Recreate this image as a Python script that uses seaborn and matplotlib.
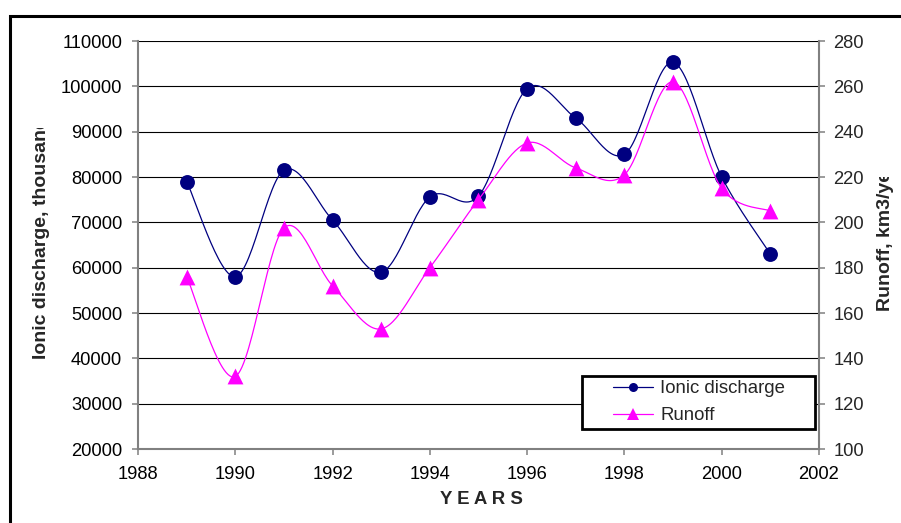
import numpy as np
import pandas as pd
import matplotlib
matplotlib.use("Agg")
import matplotlib.pyplot as plt
import seaborn as sns
from matplotlib.lines import Line2D
from matplotlib.patches import Rectangle
from matplotlib.transforms import Bbox, TransformedBbox

years = [1989, 1990, 1991, 1992, 1993, 1994, 1995, 1996, 1997, 1998, 1999, 2000, 2001]
ionic = [79000, 58000, 81500, 70500, 59000, 75600, 75800, 99500, 93000, 85000, 105300, 80000, 63000]
runoff = [176, 132, 197.5, 172, 153, 180, 210, 235, 224, 221, 262, 215, 205]

x_ticks = [1988, 1990, 1992, 1994, 1996, 1998, 2000, 2002]
left_ticks = [20000, 30000, 40000, 50000, 60000, 70000, 80000, 90000, 100000, 110000]
right_ticks = [100, 120, 140, 160, 180, 200, 220, 240, 260, 280]

NAVY = "#000080"
MAGENTA = "#FF00FF"
FS = 13.2
FS_TITLE = 14
FS_LEG = 13.4

sns.set_style("white")
plt.rcParams["font.family"] = ["Liberation Sans", "DejaVu Sans"]


def smooth(xs, ys, n=30):
    """Excel-like smoothed line (Catmull-Rom style Bezier through points)."""
    P = np.column_stack([np.asarray(xs, float), np.asarray(ys, float)])
    Pp = np.vstack([P[0], P, P[-1]])
    out = []
    t = np.linspace(0, 1, n)[:, None]
    for i in range(len(P) - 1):
        p0, p1, p2, p3 = Pp[i], Pp[i + 1], Pp[i + 2], Pp[i + 3]
        c1 = p1 + (p2 - p0) / 6.0
        c2 = p2 - (p3 - p1) / 6.0
        seg = ((1 - t) ** 3) * p1 + 3 * ((1 - t) ** 2) * t * c1 + 3 * (1 - t) * t ** 2 * c2 + t ** 3 * p2
        out.append(seg if i == 0 else seg[1:])
    S = np.vstack(out)
    return S[:, 0], S[:, 1]


df = pd.DataFrame({"year": years, "ionic": ionic, "runoff": runoff})

W, H = 901, 523
fig = plt.figure(figsize=(W / 100, H / 100), dpi=100)
ax = fig.add_axes([138 / W, 1 - 449 / H, (819 - 138) / W, (449 - 41) / H])
ax2 = ax.twinx()

# left axis: ionic discharge
sx, sy = smooth(df["year"], df["ionic"])
ax.plot(sx, sy, color=NAVY, lw=0.9, zorder=3)
sns.scatterplot(data=df, x="year", y="ionic", ax=ax, color=NAVY, marker="o",
                s=115, edgecolor=NAVY, linewidth=0, zorder=4, legend=False)

# right axis: runoff
rx, ry = smooth(df["year"], df["runoff"])
ax2.plot(rx, ry, color=MAGENTA, lw=0.9, zorder=3)
sns.scatterplot(data=df, x="year", y="runoff", ax=ax2, color=MAGENTA, marker="^",
                s=130, edgecolor=MAGENTA, linewidth=0, zorder=4, legend=False)

ax.set_xlim(1988, 2002)
ax.set_ylim(20000, 110000)
ax2.set_ylim(100, 280)
ax.set_xticks(x_ticks)
ax.set_yticks(left_ticks)
ax2.set_yticks(right_ticks)
ax.set_xticklabels([str(v) for v in x_ticks])
ax.set_yticklabels([str(v) for v in left_ticks])
ax2.set_yticklabels([str(v) for v in right_ticks])
ax.set_xlabel("")
ax.set_ylabel("")
ax2.set_ylabel("")

ax.yaxis.grid(True, color="black", lw=0.8)
ax.xaxis.grid(False)
ax.set_axisbelow(True)

for a in (ax, ax2):
    for s in a.spines.values():
        s.set_visible(False)
ax.spines["left"].set_visible(True)
ax.spines["bottom"].set_visible(True)
ax2.spines["right"].set_visible(True)
for s in (ax.spines["left"], ax.spines["bottom"], ax2.spines["right"]):
    s.set_color("#808080")
    s.set_linewidth(1.5)

ax.tick_params(axis="both", which="both", direction="out", length=4.5, width=1.1,
               color="#808080", labelsize=FS, labelcolor="black")
ax.tick_params(axis="y", pad=7, left=True)
ax.tick_params(axis="x", pad=8, bottom=True)
ax2.tick_params(axis="y", direction="out", length=4.5, width=1.1, color="#808080",
                labelsize=FS, pad=6, right=True)

# axis titles (clipped like in the original)
t1 = fig.text(42 / W, 1 - 359 / H, "Ionic discharge, thousand", rotation=90,
              ha="center", va="bottom", fontsize=FS_TITLE, fontweight="bold")
t1.set_clip_box(TransformedBbox(Bbox([[0, 0], [0.12, 1 - 128 / H]]), fig.transFigure))
t1.set_clip_on(True)

t2 = fig.text(885 / W, 1 - 311 / H, "Runoff, km3/year", rotation=90,
              ha="center", va="bottom", fontsize=FS_TITLE, fontweight="bold")
t2.set_clip_box(TransformedBbox(Bbox([[0.9, 0], [1.0, 1 - 177 / H]]), fig.transFigure))
t2.set_clip_on(True)

fig.text(481 / W, 1 - 500 / H, "Y E A R S", ha="center", va="center",
         fontsize=13.4, fontweight="bold")

# legend box
fig.add_artist(Rectangle((582 / W, 1 - 429 / H), 233 / W, 53 / H, transform=fig.transFigure,
                         facecolor="white", edgecolor="black", lw=2, zorder=4))
handles = [
    Line2D([], [], color=NAVY, lw=0.9, marker="o", markersize=6.5, markeredgewidth=0),
    Line2D([], [], color=MAGENTA, lw=0.9, marker="^", markersize=8, markeredgewidth=0),
]
leg = fig.legend(handles, ["Ionic discharge", "Runoff"], loc="upper left",
                 bbox_to_anchor=(613 / W, 1 - 380 / H), frameon=False, fontsize=FS_LEG,
                 borderpad=0, borderaxespad=0, handlelength=2.15, handletextpad=0.4,
                 labelspacing=0.55)
leg.set_zorder(5)

# outer chart frame
fig.add_artist(Rectangle((10 / W, -0.2), 1.2, 1 - 16 / H + 0.2, transform=fig.transFigure,
                         facecolor="none", edgecolor="black", lw=2.2, zorder=6, clip_on=False))

fig.savefig("out.png", dpi=100)
